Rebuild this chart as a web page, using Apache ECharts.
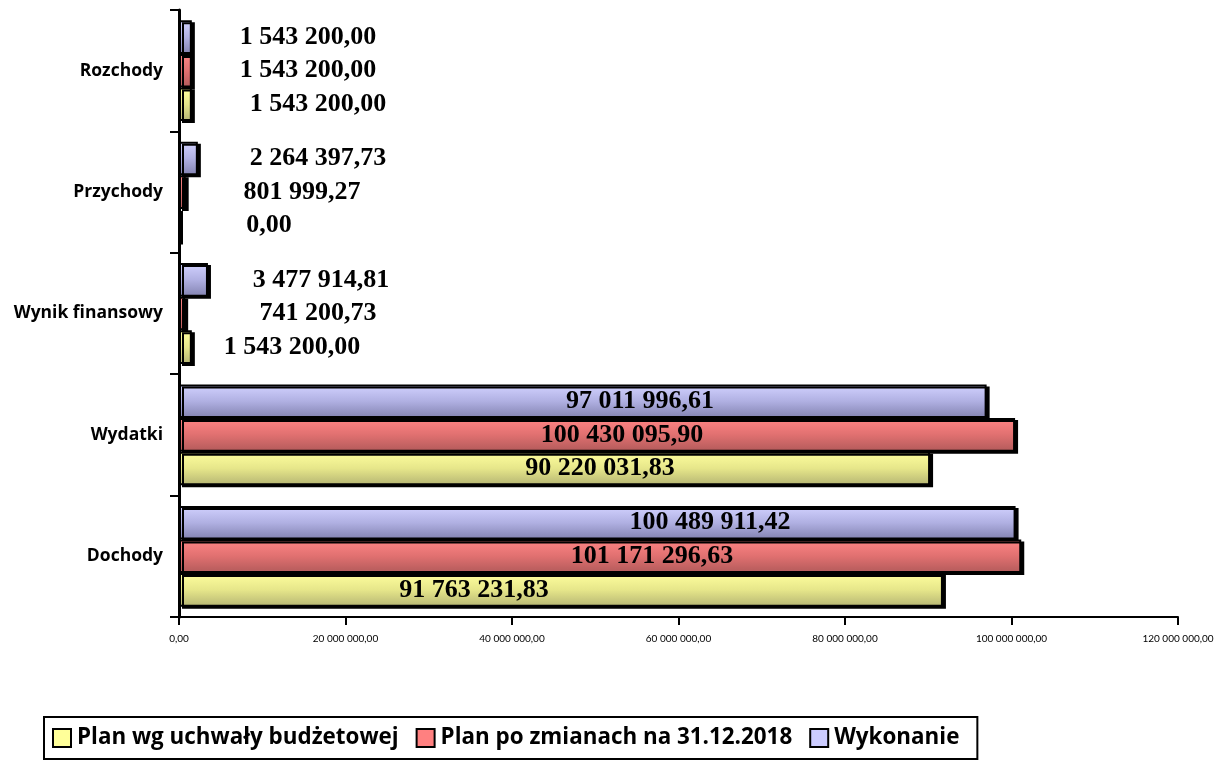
<!DOCTYPE html>
<html>
<head>
<meta charset="utf-8">
<script src="https://cdn.jsdelivr.net/npm/echarts@6/dist/echarts.min.js"></script>
<style>
  html, body { margin: 0; padding: 0; background: #fff; }
  #wykres { width: 1226px; height: 762px; }
</style>
</head>
<body>
<div id="wykres"></div>
<script>
// dane wykresu
var kategorie = ['Dochody', 'Wydatki', 'Wynik finansowy', 'Przychody', 'Rozchody'];
var serieNazwy = ['Plan wg uchwały budżetowej', 'Plan po zmianach na 31.12.2018', 'Wykonanie'];
var planUchwala = [91763231.83, 90220031.83, 1543200.00, 0.00, 1543200.00];
var planZmiany = [101171296.63, 100430095.90, 741200.73, 801999.27, 1543200.00];
var wykonanie = [100489911.42, 97011996.61, 3477914.81, 2264397.73, 1543200.00];

// gdzie stoją etykiety (środek tekstu, px od osi)
var etykietyX = [
    [295, 421, 113, 91, 139],
    [473, 443, 139, 123, 129],
    [531, 461, 142, 139, 129]
];

function fmt(v) {
    var p = v.toFixed(2).split('.');
    return p[0].replace(/\B(?=(\d{3})+(?!\d))/g, ' ') + ',' + p[1];
}

function gradient(top, mid, bottom) {
    return new echarts.graphic.LinearGradient(0, 0, 0, 1, [
        { offset: 0, color: top },
        { offset: 0.5, color: mid },
        { offset: 1, color: bottom }
    ]);
}

var kolory = [
    { solid: '#ffff99', fill: gradient('#ffff9e', '#e6e68a', '#b5b573') },
    { solid: '#ff8080', fill: gradient('#ff8585', '#e07070', '#b25a5a') },
    { solid: '#ccccff', fill: gradient('#d2d2ff', '#b0b0e2', '#8282b0') }
];

var chartDom = document.getElementById('wykres');
var myChart = echarts.init(chartDom);

var wartosci = [planUchwala, planZmiany, wykonanie];

// echarts rysuje pierwszą serię na górze grupy, więc odwracamy kolejność
var series = [2, 1, 0].map(function (s) {
    var dane = wartosci[s];
    return {
        name: serieNazwy[s],
        type: 'bar',
        barGap: '0%',
        barCategoryGap: '17%',
        data: dane.map(function (v, i) {
            return {
                value: v,
                label: { position: [etykietyX[s][i], '50%'] }
            };
        }),
        itemStyle: {
            color: kolory[s].fill,
            borderColor: '#000',
            borderWidth: 2,
            shadowColor: '#000',
            shadowBlur: 0,
            shadowOffsetX: 3,
            shadowOffsetY: 2
        },
        label: {
            show: true,
            align: 'center',
            verticalAlign: 'middle',
            fontFamily: 'Liberation Serif',
            fontWeight: 'bold',
            fontSize: 26,
            color: '#000',
            formatter: function (p) { return fmt(p.value); }
        },
        emphasis: { disabled: true }
    };
});

var option = {
    animation: false,
    grid: { left: 179, right: 48, top: 10, bottom: 145 },
    legend: {
        left: 44,
        top: 717,
        padding: [10, 18, 10, 8],
        itemGap: 17,
        itemWidth: 18,
        itemHeight: 18,
        icon: 'rect',
        borderColor: '#000',
        borderWidth: 2,
        data: serieNazwy.map(function (n, s) {
            return { name: n, itemStyle: { color: kolory[s].solid, borderColor: '#000', borderWidth: 2 } };
        }),
        textStyle: {
            fontFamily: 'Open Sans',
            fontWeight: 'bold',
            fontSize: 22.4,
            color: '#000',
            padding: [0, 0, 0, 1]
        }
    },
    xAxis: {
        type: 'value',
        min: 0,
        max: 120000000,
        interval: 20000000,
        splitLine: { show: false },
        axisLine: { show: true, lineStyle: { color: '#000', width: 2 } },
        axisTick: { show: true, length: 8, lineStyle: { color: '#000', width: 2 } },
        axisLabel: {
            margin: 17,
            fontFamily: 'Lato',
            fontSize: 10,
            color: '#000',
            formatter: function (v) { return fmt(v); }
        }
    },
    yAxis: {
        type: 'category',
        data: kategorie,
        axisLine: { show: true, lineStyle: { color: '#000', width: 3 } },
        axisTick: { show: true, length: 9, lineStyle: { color: '#000', width: 2 } },
        axisLabel: {
            margin: 16,
            fontFamily: 'Open Sans',
            fontWeight: 'bold',
            fontSize: 17.5,
            color: '#000'
        }
    },
    series: series
};

myChart.setOption(option);

window.addEventListener('resize', function () {
    myChart.resize();
});
</script>
</body>
</html>
